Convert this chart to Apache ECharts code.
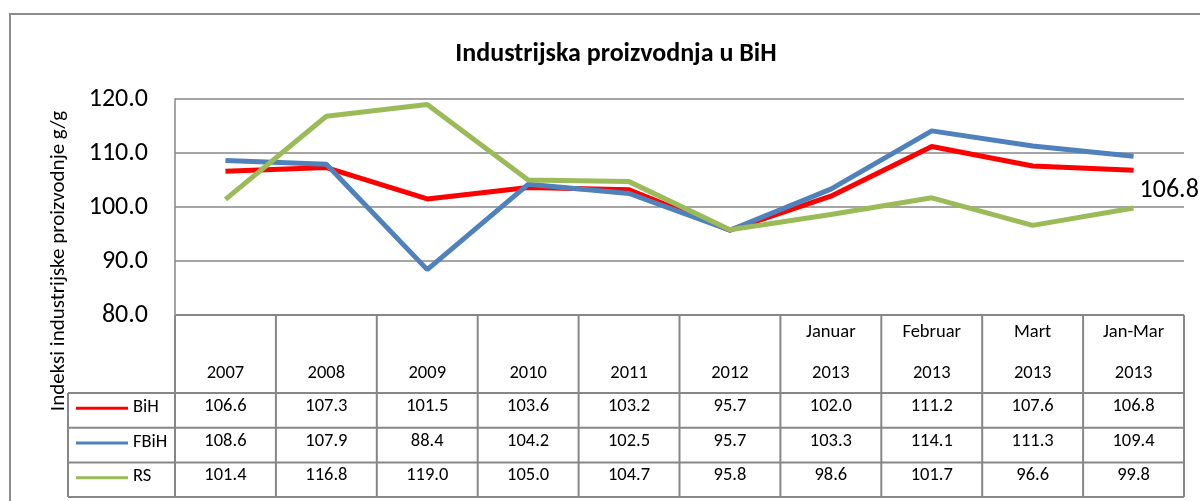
<!DOCTYPE html>
<html><head><meta charset="utf-8">
<script src="https://cdn.jsdelivr.net/npm/echarts@6/dist/echarts.min.js"></script>
<style>html,body{margin:0;padding:0;background:#fff}#c{width:1200px;height:501px}</style>
</head><body><div id="c"></div>
<script>
const titleText = 'Industrijska proizvodnja u BiH';
const yAxisTitle = 'Indeksi industrijske proizvodnje g/g';
const catTop = ['', '', '', '', '', '', 'Januar', 'Februar', 'Mart', 'Jan-Mar'];
const catBottom = ['2007', '2008', '2009', '2010', '2011', '2012', '2013', '2013', '2013', '2013'];
const seriesNames = ['BiH', 'FBiH', 'RS'];
const bih = [106.6, 107.3, 101.5, 103.6, 103.2, 95.7, 102.0, 111.2, 107.6, 106.8];
const fbih = [108.6, 107.9, 88.4, 104.2, 102.5, 95.7, 103.3, 114.1, 111.3, 109.4];
const rs = [101.4, 116.8, 119.0, 105.0, 104.7, 95.8, 98.6, 101.7, 96.6, 99.8];
const yMin = 80, yMax = 120, yStep = 10;

const FONT = 'Carlito, Lato, sans-serif';
const colors = ['#FF0000', '#4F81BD', '#9BBB59'];
const seriesData = [bih, fbih, rs];
const categories = catBottom.map((b, i) => (catTop[i] ? catTop[i] + ' ' : '') + b);

const chart = echarts.init(document.getElementById('c'), null, {renderer: 'canvas'});
const gridColor = '#878787';

const option = {
  animation: false,
  backgroundColor: '#fff',
  title: {
    text: titleText, left: 611, top: 36, textAlign: 'center',
    textStyle: {fontFamily: FONT, fontSize: 26, fontWeight: 'bold', color: '#000'}
  },
  grid: {left: 175, top: 99, right: 16, bottom: 186, containLabel: false},
  xAxis: {
    type: 'category', data: categories, boundaryGap: true,
    axisLine: {show: false}, axisTick: {show: false}, axisLabel: {show: false}, splitLine: {show: false}
  },
  yAxis: {
    type: 'value', min: yMin, max: yMax, interval: yStep,
    axisLine: {show: true, lineStyle: {color: gridColor, width: 1.5}},
    axisTick: {show: false},
    axisLabel: {
      margin: 27, fontFamily: FONT, fontSize: 26, color: '#000',
      formatter: v => v.toFixed(1)
    },
    splitLine: {show: true, lineStyle: {color: gridColor, width: 1.5}}
  },
  series: seriesNames.map((n, i) => ({
    name: n, type: 'line', data: seriesData[i], showSymbol: false, symbol: 'none',
    lineStyle: {color: colors[i], width: 5}, itemStyle: {color: colors[i]},
    endLabel: i === 0 ? {
      show: true, distance: 6, offset: [0, 20],
      fontFamily: FONT, fontSize: 26, color: '#000',
      formatter: p => Number(p.value).toFixed(1)
    } : {show: false}
  }))
};
chart.setOption(option);

const p0 = chart.convertToPixel({xAxisIndex: 0}, 0);
const p1 = chart.convertToPixel({xAxisIndex: 0}, 1);
const step = p1 - p0;
const left = p0 - step / 2;
const n = categories.length;
const right = left + step * n;
const plotBottom = chart.convertToPixel({yAxisIndex: 0}, yMin);
const headerBottom = plotBottom + 78;
const rowH = 34.7;
const legendLeft = 68;
const tableBottom = headerBottom + rowH * seriesNames.length;
const tc = gridColor, tw = 2;
const TS = 18.5;
const g = [];
g.push({type: 'rect', shape: {x: 10, y: 14, width: 1300, height: 600}, style: {fill: 'none', stroke: '#8c8c8c', lineWidth: 2}, silent: true});
g.push({type: 'text', x: 59, y: 261, rotation: Math.PI / 2, style: {text: yAxisTitle, fontFamily: FONT, fontSize: 21, fill: '#000', align: 'center', verticalAlign: 'middle'}});
g.push({type: 'line', shape: {x1: left, y1: plotBottom, x2: right, y2: plotBottom}, style: {stroke: tc, lineWidth: tw}});
for (let r = 0; r <= seriesNames.length; r++) {
  const y = headerBottom + rowH * r;
  g.push({type: 'line', shape: {x1: legendLeft, y1: y, x2: right, y2: y}, style: {stroke: tc, lineWidth: tw}});
}
g.push({type: 'line', shape: {x1: legendLeft, y1: headerBottom, x2: legendLeft, y2: tableBottom}, style: {stroke: tc, lineWidth: tw}});
for (let i = 0; i <= n; i++) {
  const x = left + step * i;
  g.push({type: 'line', shape: {x1: x, y1: plotBottom, x2: x, y2: tableBottom}, style: {stroke: tc, lineWidth: tw}});
}
for (let i = 0; i < n; i++) {
  const cx = chart.convertToPixel({xAxisIndex: 0}, i);
  if (catTop[i]) g.push({type: 'text', x: cx, y: plotBottom + 17, style: {text: catTop[i], fontFamily: FONT, fontSize: TS, fill: '#000', align: 'center', verticalAlign: 'middle'}});
  g.push({type: 'text', x: cx, y: plotBottom + 58, style: {text: catBottom[i], fontFamily: FONT, fontSize: TS, fill: '#000', align: 'center', verticalAlign: 'middle'}});
}
seriesNames.forEach((name, r) => {
  const cy = headerBottom + rowH * r + rowH / 2;
  g.push({type: 'line', shape: {x1: 76, y1: cy - 2, x2: 128, y2: cy - 2}, style: {stroke: colors[r], lineWidth: 3}});
  g.push({type: 'text', x: 133, y: cy - 3, style: {text: name, fontFamily: FONT, fontSize: TS, fill: '#000', align: 'left', verticalAlign: 'middle'}});
  seriesData[r].forEach((v, i) => {
    const cx = chart.convertToPixel({xAxisIndex: 0}, i);
    g.push({type: 'text', x: cx, y: cy - 4, style: {text: v.toFixed(1), fontFamily: FONT, fontSize: TS, fill: '#000', align: 'center', verticalAlign: 'middle'}});
  });
});
chart.setOption({graphic: g});
</script>
</body></html>
